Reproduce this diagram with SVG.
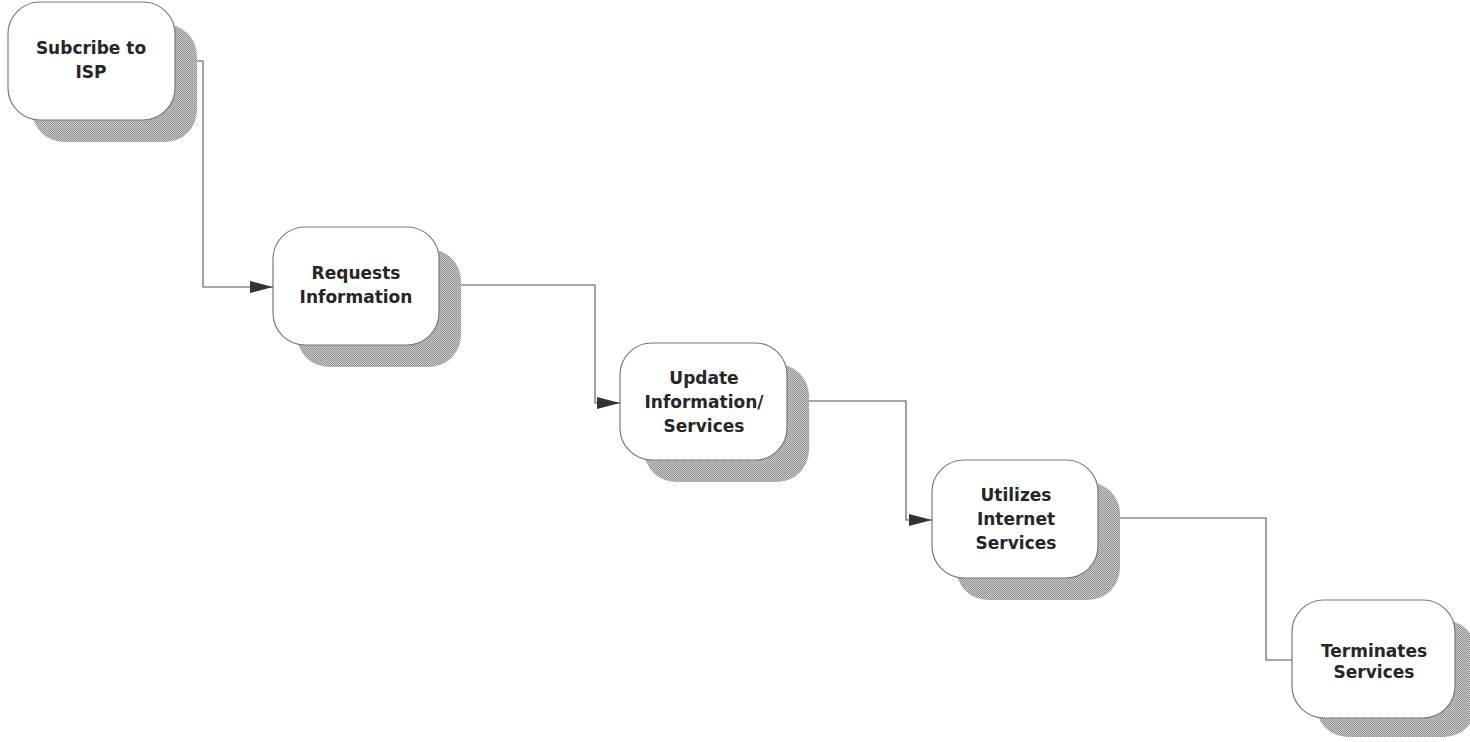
<svg xmlns="http://www.w3.org/2000/svg" width="1470" height="742" viewBox="0 0 1470 742">
<defs>
<pattern id="dots" width="2" height="2" patternUnits="userSpaceOnUse">
<rect width="2" height="2" fill="#c8c8c8"/>
<rect width="1" height="1" fill="#8f8f8f"/>
<rect x="1" y="1" width="1" height="1" fill="#9a9a9a"/>
</pattern>
<marker id="arr" markerWidth="24" markerHeight="14" refX="23" refY="7" orient="auto" markerUnits="userSpaceOnUse">
<path d="M0,1 L23,7 L0,13 Z" fill="#333"/>
</marker>
</defs>
<style>
.shadow{fill:url(#dots);stroke:none}
.box{fill:#fff;stroke:#7a7a7a;stroke-width:1.2}
.lbl{font-family:"DejaVu Sans",Verdana,sans-serif;font-weight:bold;font-size:17px;fill:#262626;text-anchor:middle}
.conn{fill:none;stroke:#555;stroke-width:1.1}
</style>
<rect width="1470" height="742" fill="#fff"/>
<g id="node1">
<rect class="shadow" x="32" y="24" width="165" height="118" rx="32"/>
<rect class="box" x="8" y="2" width="167" height="118" rx="32"/>
<text class="lbl" x="91" y="54">Subcribe to</text>
<text class="lbl" x="91" y="78">ISP</text>
</g>
<g id="node2">
<rect class="shadow" x="297" y="249" width="164" height="118" rx="32"/>
<rect class="box" x="273" y="227" width="166" height="118" rx="32"/>
<text class="lbl" x="356" y="279">Requests</text>
<text class="lbl" x="356" y="303">Information</text>
</g>
<g id="node3">
<rect class="shadow" x="644" y="364" width="165" height="118" rx="32"/>
<rect class="box" x="620" y="343" width="167" height="117" rx="32"/>
<text class="lbl" x="704" y="384">Update</text>
<text class="lbl" x="704" y="408">Information/</text>
<text class="lbl" x="704" y="432">Services</text>
</g>
<g id="node4">
<rect class="shadow" x="956" y="482" width="164" height="118" rx="32"/>
<rect class="box" x="932" y="460" width="166" height="118" rx="32"/>
<text class="lbl" x="1016" y="501">Utilizes</text>
<text class="lbl" x="1016" y="525">Internet</text>
<text class="lbl" x="1016" y="549">Services</text>
</g>
<g id="node5">
<rect class="shadow" x="1316" y="620" width="160" height="117" rx="32"/>
<rect class="box" x="1292" y="600" width="163" height="118" rx="32"/>
<text class="lbl" x="1374" y="657">Terminates</text>
<text class="lbl" x="1374" y="678">Services</text>
</g>
<g id="connectors">
<path class="conn" d="M197,61 H203 V287 H273" marker-end="url(#arr)"/>
<path class="conn" d="M461,285 H595 V403 H620" marker-end="url(#arr)"/>
<path class="conn" d="M809,401 H906 V520 H932" marker-end="url(#arr)"/>
<path class="conn" d="M1120,518 H1266 V660 H1292"/>
</g>
</svg>
